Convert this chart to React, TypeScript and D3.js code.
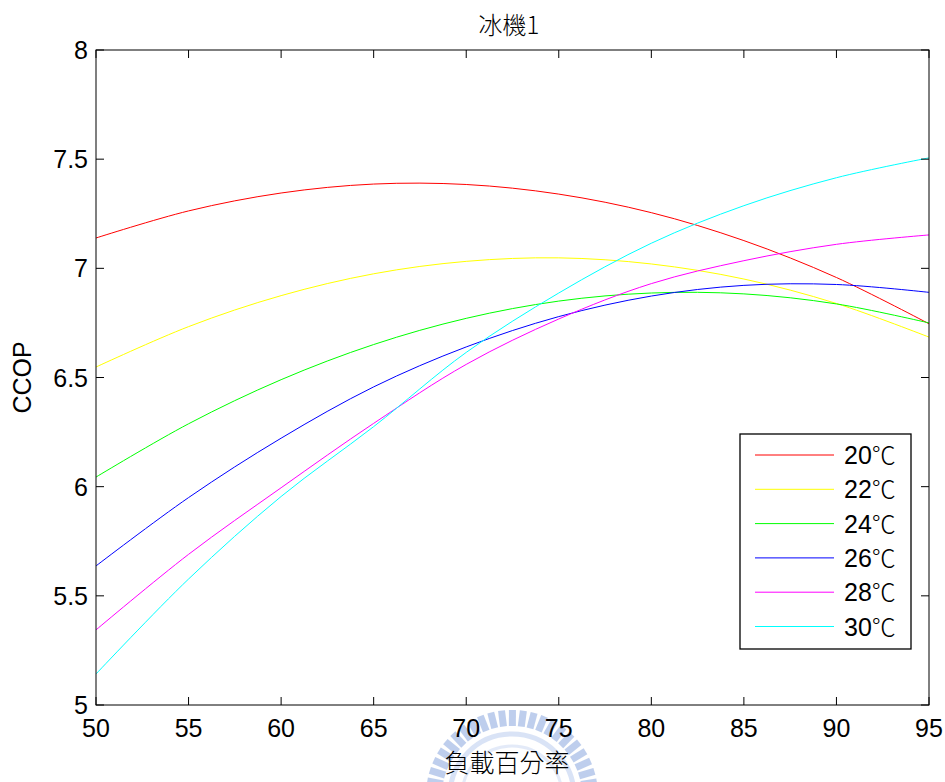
import React from 'react';
import * as d3 from 'd3';

// 負載百分率 (x) and CCOP values per chilled water temperature
const loads = [50, 55, 60, 65, 70, 75, 80, 85, 90, 95];
const ccop20 = [7.139, 7.263, 7.345, 7.386, 7.384, 7.340, 7.255, 7.127, 6.958, 6.746];
const ccop22 = [6.548, 6.733, 6.875, 6.975, 7.032, 7.048, 7.020, 6.951, 6.839, 6.685];
const ccop24 = [6.044, 6.288, 6.490, 6.651, 6.771, 6.850, 6.887, 6.883, 6.837, 6.750];
const ccop26 = [5.637, 5.950, 6.222, 6.457, 6.640, 6.779, 6.873, 6.922, 6.926, 6.890];
const ccop28 = [5.344, 5.690, 5.995, 6.290, 6.560, 6.768, 6.930, 7.035, 7.110, 7.153];
const ccop30 = [5.142, 5.577, 5.955, 6.275, 6.615, 6.887, 7.115, 7.287, 7.415, 7.506];

const seriesNames = ['20', '22', '24', '26', '28', '30'];
const unit = '℃';
const seriesColors = ['#ff0000', '#ffff00', '#00ff00', '#0000ff', '#ff00ff', '#00ffff'];
const seriesValues = [ccop20, ccop22, ccop24, ccop26, ccop28, ccop30];

const xTicks = [50, 55, 60, 65, 70, 75, 80, 85, 90, 95];
const yTicks = [5, 5.5, 6, 6.5, 7, 7.5, 8];

const W = 945;
const H = 782;
const margin = { top: 50, right: 16, bottom: 77, left: 96 };
const tickLen = 8;
const latin = '"Liberation Sans", Arial, Helvetica, sans-serif';
const cjk = '"Noto Sans CJK TC", "Noto Sans CJK SC", sans-serif';

export default function App() {
  const x = d3.scaleLinear().domain([50, 95]).range([margin.left, W - margin.right]);
  const y = d3.scaleLinear().domain([5, 8]).range([H - margin.bottom, margin.top]);
  const [x0, x1] = x.range();
  const [y0, y1] = y.range();

  const line = d3.line<number>()
    .x((_, i) => x(loads[i]))
    .y(d => y(d))
    .curve(d3.curveCatmullRom.alpha(0.5));

  // faint emblem watermark behind the x label
  const wmCx = 512, wmCy = 796, wmR = 86;
  const teeth = d3.range(-80, 81, 7.3);

  // legend layout
  const lg = { x: 740, y: 434, w: 171, h: 215, rowTop: 455, rowStep: 34.3 };

  return (
    <svg width={W} height={H} style={{ position: 'absolute', left: 0, top: 0, background: '#fff' }}>
      <rect x={0} y={0} width={W} height={H} fill="#fff" />
      <defs>
        <clipPath id="plotClip">
          <rect x={x0} y={y1} width={x1 - x0} height={y0 - y1} />
        </clipPath>
      </defs>

      <g opacity={0.5}>
        {teeth.map(a => {
          const r = (a * Math.PI) / 180;
          return (
            <line
              key={a}
              x1={wmCx + Math.sin(r) * (wmR - 16)}
              y1={wmCy - Math.cos(r) * (wmR - 16)}
              x2={wmCx + Math.sin(r) * wmR}
              y2={wmCy - Math.cos(r) * wmR}
              stroke="#7f9fdc"
              strokeWidth={7}
            />
          );
        })}
        <circle cx={wmCx} cy={wmCy} r={wmR - 24} fill="none" stroke="#b5c8ee" strokeWidth={5} />
        <circle cx={wmCx} cy={wmCy} r={wmR - 36} fill="none" stroke="#c9d7f3" strokeWidth={3} />
      </g>

      <g clipPath="url(#plotClip)">
        {seriesValues.map((vals, i) => (
          <path key={seriesNames[i]} d={line(vals) || ''} fill="none" stroke={seriesColors[i]} strokeWidth={1} />
        ))}
      </g>

      {/* axes box */}
      <rect x={x0} y={y1} width={x1 - x0} height={y0 - y1} fill="none" stroke="#000" strokeWidth={1} />

      {xTicks.map(t => (
        <g key={'x' + t}>
          <line x1={x(t)} x2={x(t)} y1={y0} y2={y0 - tickLen} stroke="#000" />
          <line x1={x(t)} x2={x(t)} y1={y1} y2={y1 + tickLen} stroke="#000" />
          <text x={x(t)} y={y0 + 32} textAnchor="middle" fontFamily={latin} fontSize={25} fill="#000">
            {t}
          </text>
        </g>
      ))}

      {yTicks.map(t => (
        <g key={'y' + t}>
          <line x1={x0} x2={x0 + tickLen} y1={y(t)} y2={y(t)} stroke="#000" />
          <line x1={x1} x2={x1 - tickLen} y1={y(t)} y2={y(t)} stroke="#000" />
          <text x={x0 - 8} y={y(t) + 9} textAnchor="end" fontFamily={latin} fontSize={25} fill="#000">
            {t}
          </text>
        </g>
      ))}

      <text x={509} y={34} textAnchor="middle" fontFamily={cjk} fontSize={24} fontWeight={300} fill="#000">
        冰機1
      </text>
      <text x={507} y={772} textAnchor="middle" fontFamily={cjk} fontSize={25} fontWeight={300} fill="#000">
        負載百分率
      </text>
      <text
        transform={`translate(31, ${(y0 + y1) / 2}) rotate(-90)`}
        textAnchor="middle"
        fontFamily={latin}
        fontSize={25}
        fill="#000"
      >
        CCOP
      </text>

      {/* legend */}
      <rect x={lg.x} y={lg.y} width={lg.w} height={lg.h} fill="#fff" stroke="#000" strokeWidth={1.3} />
      {seriesNames.map((name, i) => {
        const ry = lg.rowTop + i * lg.rowStep;
        return (
          <g key={'lg' + name}>
            <line x1={755} x2={834} y1={ry} y2={ry} stroke={seriesColors[i]} strokeWidth={1} />
            <text x={844} y={ry + 9} fontFamily={latin} fontSize={25} fill="#000">
              {name}
              <tspan fontFamily={cjk} fontWeight={300} fontSize={24}>{unit}</tspan>
            </text>
          </g>
        );
      })}
    </svg>
  );
}
